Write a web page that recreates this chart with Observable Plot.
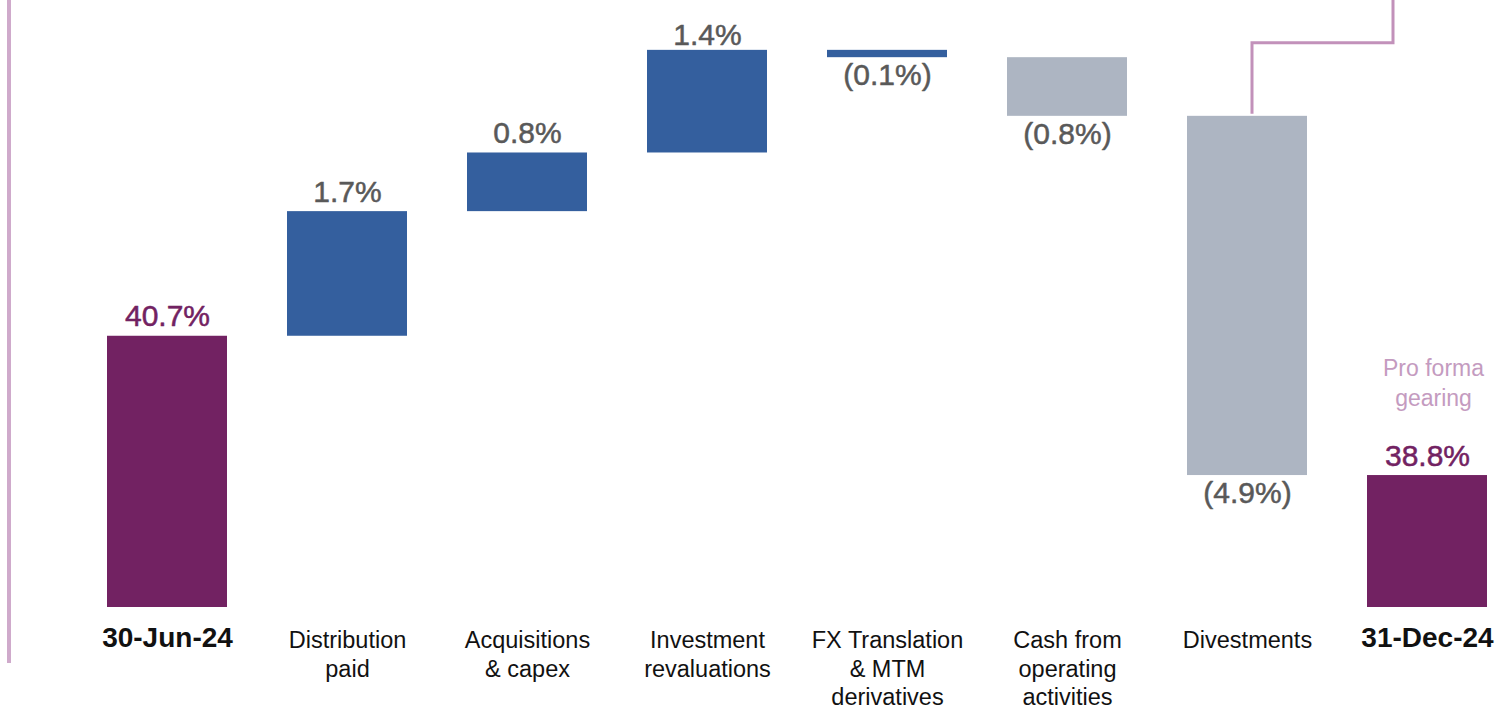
<!DOCTYPE html>
<html><head><meta charset="utf-8">
<script src="https://cdn.jsdelivr.net/npm/d3@7"></script>
<script src="https://cdn.jsdelivr.net/npm/@observablehq/plot@0.6"></script>
<style>
html,body{margin:0;padding:0;background:#fff;}
#chart{position:relative;width:1499px;height:709px;overflow:hidden;}
#chart svg{display:block;}
</style></head><body><div id="chart"></div>
<script>
// ---- data ----
const categories = ["30-Jun-24","Distribution\npaid","Acquisitions\n& capex","Investment\nrevaluations","FX Translation\n& MTM\nderivatives","Cash from\noperating\nactivities","Divestments","31-Dec-24"];
const values = [40.7, 1.7, 0.8, 1.4, -0.1, -0.8, -4.9, 38.8];
const kinds = ["total","blue","blue","blue","blue","grey","grey","total"];
const yDomain = [37, 45.28];
const annotation = ["Pro forma", "gearing"];

// ---- build waterfall rows ----
let run = 0;
const rows = categories.map((c, i) => {
  const v = values[i], k = kinds[i];
  let y1, y2;
  if (k === "total") { y1 = yDomain[0]; y2 = v; run = v; }
  else { y1 = run; y2 = run + v; run = y2; }
  const label = k === "total" ? `${v.toFixed(1)}%` : (v < 0 ? `(${Math.abs(v).toFixed(1)}%)` : `${v.toFixed(1)}%`);
  return {cat: c, v, kind: k, y1, y2, top: Math.max(y1, y2), bottom: Math.min(y1, y2), label};
});
const colors = {total: "#722262", blue: "#345f9e", grey: "#adb5c2"};
const font = "'Liberation Sans', Arial, Helvetica, sans-serif";
const lineColor = "#c291ba";
const tight = categories[3]; // label drawn closer to its bar

// decorative lines drawn with scales
function decor(index, scales, values, dims) {
  const svg = d3.create("svg:g");
  // left vertical rule
  svg.append("line").attr("x1", 9).attr("x2", 9).attr("y1", 0).attr("y2", 663)
    .attr("stroke", "#cfaacb").attr("stroke-width", 4);
  // connector from divestments top to pro-forma
  const bw = scales.x.bandwidth ? scales.x.bandwidth() : 120;
  const xa = scales.x(categories[6]) + bw / 2 + 5;
  const xb = scales.x(categories[7]) + 26;
  const ya = scales.y(rows[6].top) - 2;
  const ym = scales.y(rows[4].top) - 7;
  svg.append("path").attr("d", `M${xa},${ya}V${ym}H${xb}V0`)
    .attr("fill", "none").attr("stroke", lineColor).attr("stroke-width", 3);
  return svg.node();
}

const posStyle = {x: "cat", y: "top", text: "label", lineAnchor: "bottom", fontSize: 30,
  fill: d => d.kind === "total" ? "#722262" : "#595959",
  stroke: d => d.kind === "total" ? "#722262" : "#595959", strokeWidth: 0.5};

const chart = Plot.plot({
  width: 1499,
  height: 709,
  marginTop: 0,
  marginBottom: 102,
  marginLeft: 107,
  marginRight: 12,
  style: {fontFamily: font, background: "#fff", overflow: "visible"},
  x: {domain: categories, paddingInner: 1/3, paddingOuter: 0, axis: null},
  y: {domain: yDomain, axis: null},
  marks: [
    decor,
    Plot.barY(rows, {x: "cat", y1: "y1", y2: "y2", fill: d => colors[d.kind], insetLeft: 0, insetRight: 0}),
    // positive / total labels
    Plot.text(rows.filter(d => d.v >= 0 && d.cat !== tight), {...posStyle, dy: -10}),
    Plot.text(rows.filter(d => d.cat === tight), {...posStyle, dy: -5}),
    // negative labels
    Plot.text(rows.filter(d => d.v < 0), {x: "cat", y: "bottom", text: "label", lineAnchor: "top", dy: 6,
      fontSize: 30, fill: "#595959", stroke: "#595959", strokeWidth: 0.5}),
    // category labels
    Plot.text(rows.filter(d => d.kind !== "total"), {x: "cat", frameAnchor: "bottom", text: "cat", lineAnchor: "top", dy: 20,
      fontSize: 23.5, lineHeight: 1.22, fill: "#111"}),
    Plot.text(rows.filter(d => d.kind === "total"), {x: "cat", frameAnchor: "bottom", text: "cat", lineAnchor: "top", dy: 20,
      fontSize: 28, fontWeight: "bold", fill: "#111"}),
    // pro forma annotation
    Plot.text([rows[7]], {x: "cat", y: "top", text: () => annotation.join("\n"), lineAnchor: "bottom", dy: -70, dx: 6,
      fontSize: 23, lineHeight: 1.3, fill: "#c49bc0"})
  ]
});
document.getElementById("chart").appendChild(chart);
</script>
</body></html>
